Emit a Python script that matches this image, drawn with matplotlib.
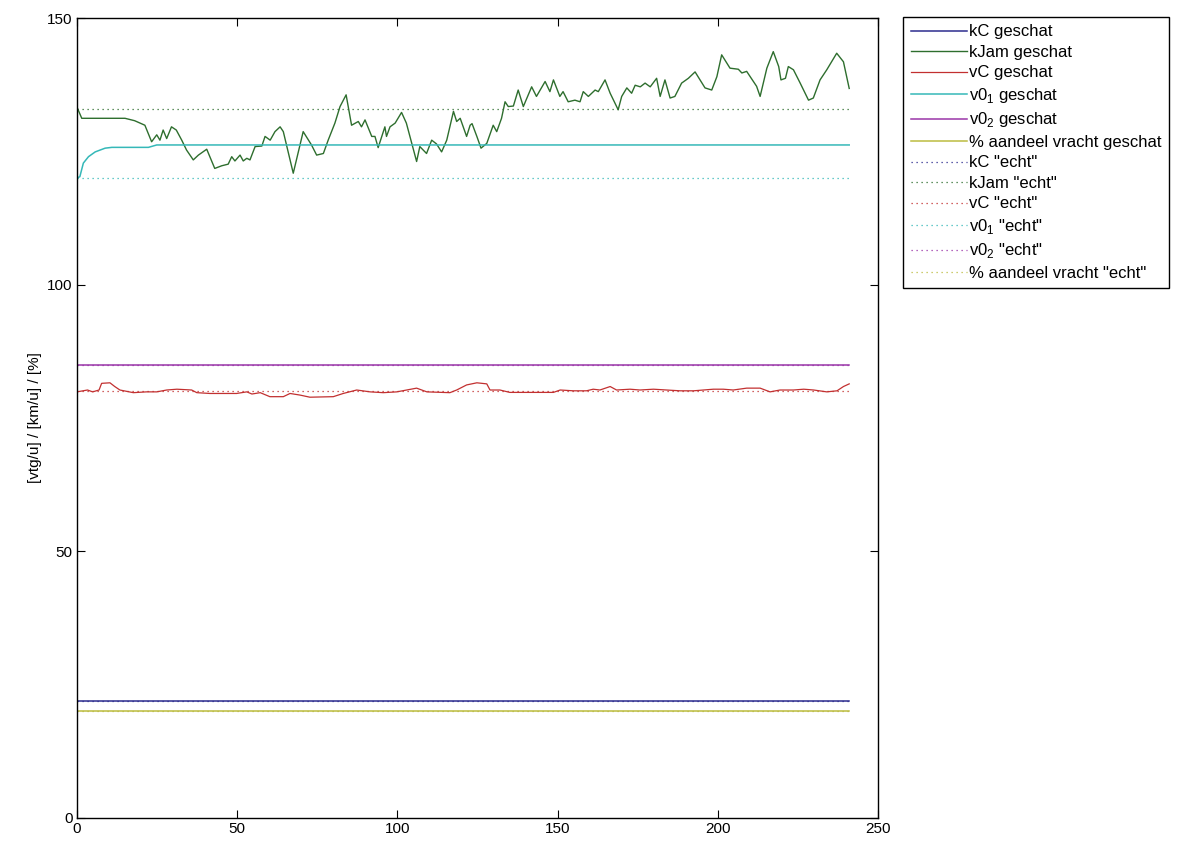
import numpy as np
import matplotlib
matplotlib.use('Agg')
import matplotlib.pyplot as plt

plt.rcParams['font.family'] = ['Liberation Sans', 'DejaVu Sans']
plt.rcParams['mathtext.fontset'] = 'custom'
plt.rcParams['mathtext.rm'] = 'Liberation Sans'

# time span of the estimation run
t_start, t_end = 0, 241

# kJam geschat
kjam_t = [0, 1.5, 15, 18, 21.2, 23.3, 24.9, 25.9, 26.9, 28, 29.5, 31, 32.7, 34.2, 36.3, 37.9,
          40.5, 43, 45.2, 47.2, 48.3, 49.3, 50.9, 51.9, 53, 54, 55.6, 57.7, 58.7, 60.3, 61.8,
          63.4, 64.4, 67.5, 70.6, 73.2, 74.8, 76.9, 78.4, 80.5, 82.1, 84, 85.7, 87.8, 88.8,
          89.9, 92, 93, 94, 96.1, 96.6, 97.7, 99.3, 101.3, 102.8, 106, 107, 109.1, 110.7,
          112.2, 113.8, 115.4, 117.5, 118.5, 119.6, 121.6, 122.7, 123.3, 124.8, 126.1, 127.9,
          129.9, 131, 132.5, 133.6, 134.6, 136.2, 137.7, 139.3, 141.9, 143.4, 146.1, 147.6,
          148.7, 150.7, 151.7, 153.3, 155.4, 157, 158, 159.6, 161.7, 162.7, 164.8, 166.4,
          168.9, 170, 171.6, 173.1, 174.2, 175.8, 177.3, 178.9, 180.9, 182, 183.5, 185.1,
          186.6, 188.7, 190.8, 192.9, 196, 198.1, 199.7, 201.2, 203.8, 206.4, 207.5, 209,
          212.1, 213.2, 215.3, 217.3, 219, 219.7, 221.1, 222, 223.6, 225.7, 228.3, 229.8,
          231.9, 234, 237.1, 239.2, 241]
kjam_v = [133.3, 131.2, 131.2, 130.75, 129.9, 126.8, 128.1, 127.1, 129.0, 127.4, 129.6, 129.0,
          127.1, 125.25, 123.4, 124.3, 125.4, 121.8, 122.3, 122.6, 124.0, 123.2, 124.3, 123.2,
          123.7, 123.4, 125.9, 126.0, 127.8, 127.1, 128.7, 129.6, 128.7, 120.9, 128.7, 126.2,
          124.3, 124.6, 127.1, 130.3, 133.4, 135.6, 129.9, 130.6, 129.6, 130.9, 127.8, 127.8,
          125.7, 129.6, 127.8, 129.6, 130.3, 132.3, 130.3, 123.1, 125.9, 124.6, 127.1, 126.4,
          124.9, 127.1, 132.5, 130.6, 131.2, 127.8, 129.9, 130.2, 127.8, 125.6, 126.5, 129.9,
          128.7, 131.2, 134.3, 133.4, 133.5, 136.5, 133.4, 137.1, 135.3, 138.1, 136.2, 138.4,
          135.3, 136.2, 134.3, 134.6, 134.3, 136.2, 135.3, 136.5, 136.2, 138.4, 135.9, 132.8,
          135.3, 136.9, 135.9, 137.4, 137.1, 137.8, 137.1, 138.7, 135.3, 138.4, 135.0, 135.3,
          137.8, 138.7, 139.9, 136.9, 136.5, 139.0, 143.1, 140.6, 140.4, 139.7, 140.0, 137.2,
          135.3, 140.6, 143.7, 140.9, 138.4, 138.7, 140.9, 140.3, 137.8, 134.6, 135.0, 138.4,
          140.3, 143.4, 141.8, 136.8]

# vC geschat
vc_t = [0, 3.3, 4.9, 6.9, 7.7, 10.3, 11.8, 13.4, 17.6, 21.7, 24.9, 28, 31.2, 35.8, 37.4, 41.5,
        49.8, 53, 54.6, 57.2, 60.2, 64.4, 66.5, 69.6, 72.7, 80, 83.1, 87.3, 91.5, 95.6, 99.8,
        106, 109.2, 116.4, 118.5, 121.6, 124.8, 127.9, 128.9, 132, 135.1, 148.7, 150.8, 154.9,
        159, 161.1, 163.2, 166.4, 168.4, 172.6, 175.7, 179.9, 184, 188.2, 192.4, 195.5, 198.6,
        201.7, 204.8, 209, 213.2, 216.3, 219.4, 223.6, 226.8, 229.9, 234, 237.2, 239.2, 241]
vc_v = [79.9, 80.25, 79.9, 80.25, 81.5, 81.6, 80.9, 80.25, 79.75, 79.9, 79.9, 80.25, 80.4, 80.25,
        79.75, 79.6, 79.6, 79.9, 79.5, 79.75, 79.0, 79.0, 79.6, 79.3, 78.9, 79.0, 79.6, 80.25,
        79.9, 79.75, 79.9, 80.6, 79.9, 79.75, 80.25, 81.2, 81.6, 81.4, 80.25, 80.25, 79.8, 79.8,
        80.25, 80.1, 80.1, 80.4, 80.25, 80.9, 80.25, 80.4, 80.25, 80.4, 80.25, 80.1, 80.1, 80.25,
        80.4, 80.4, 80.25, 80.6, 80.6, 79.9, 80.25, 80.25, 80.4, 80.25, 79.9, 80.1, 80.9, 81.4]

# v0_1 geschat
v01_t = [0, 0.9, 2, 3.6, 5.7, 8.8, 10.9, 22.3, 24.9, 241]
v01_v = [120.0, 120.25, 122.8, 124.0, 124.9, 125.6, 125.75, 125.75, 126.2, 126.2]

# constant estimates
kc_est = 22
v02_est = 85
vracht_est = 20

# "echt" (true) values
kc_true = 22
kjam_true = 133
vc_true = 80
v01_true = 120
v02_true = 85
vracht_true = 20

c_kc = '#2c2c8e'
c_kjam = '#2e6e2e'
c_vc = '#c23030'
c_v01 = '#35b8b8'
c_v02 = '#9a35a8'
c_vr = '#bcbc40'

fig = plt.figure(figsize=(11.93, 8.43), dpi=100)
ax = fig.add_axes([0.0645, 0.0297, 0.6715, 0.9489])

span = [t_start, t_end]
ax.plot(span, [kc_est] * 2, color=c_kc, lw=1.1, label='kC geschat')
ax.plot(kjam_t, kjam_v, color=c_kjam, lw=1.0, label='kJam geschat')
ax.plot(vc_t, vc_v, color=c_vc, lw=0.9, label='vC geschat')
ax.plot(v01_t, v01_v, color=c_v01, lw=1.1, label=r'v0$_1$ geschat')
ax.plot(span, [v02_est] * 2, color=c_v02, lw=1.1, label=r'v0$_2$ geschat')
ax.plot(span, [vracht_est] * 2, color=c_vr, lw=1.1, label='% aandeel vracht geschat')

dot = (0, (1, 3))
ax.plot(span, [kc_true] * 2, color=c_kc, lw=0.9, ls=dot, label='kC "echt"')
ax.plot(span, [kjam_true] * 2, color=c_kjam, lw=0.9, ls=dot, label='kJam "echt"')
ax.plot(span, [vc_true] * 2, color=c_vc, lw=0.9, ls=dot, label='vC "echt"')
ax.plot(span, [v01_true] * 2, color=c_v01, lw=0.9, ls=dot, label=r'v0$_1$ "echt"')
ax.plot(span, [v02_true] * 2, color=c_v02, lw=0.9, ls=dot, label=r'v0$_2$ "echt"')
ax.plot(span, [vracht_true] * 2, color=c_vr, lw=0.9, ls=dot, label='% aandeel vracht "echt"')

ax.set_xlim(0, 250)
ax.set_ylim(0, 150)
ax.set_xticks([0, 50, 100, 150, 200, 250])
ax.set_yticks([0, 50, 100, 150])
ax.tick_params(direction='in', top=True, right=True, length=6, width=0.8,
               labelsize=11, pad=3)
for s in ax.spines.values():
    s.set_linewidth(1.0)

ax.set_ylabel('[vtg/u] / [km/u] / [%]', fontsize=11, labelpad=4)

leg = fig.legend(loc='upper left', bbox_to_anchor=(0.757, 0.98), fontsize=12,
                 handlelength=3.4, handletextpad=0.1, labelspacing=0.33,
                 borderpad=0.45, borderaxespad=0, fancybox=False,
                 edgecolor='black', framealpha=1)
leg.get_frame().set_linewidth(1.0)

fig.savefig('out.png', dpi=100)
